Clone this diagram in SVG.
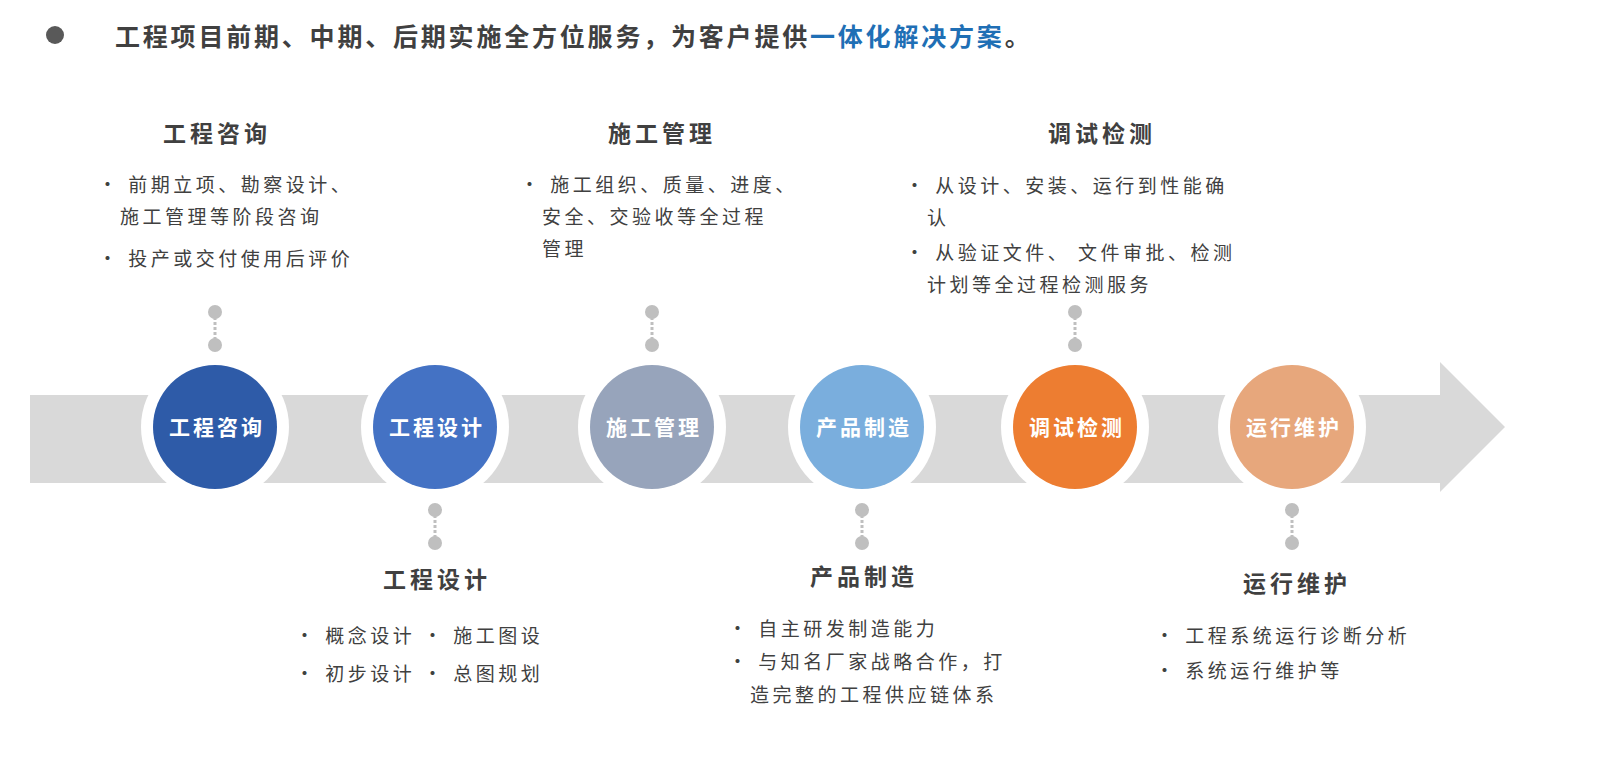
<svg xmlns="http://www.w3.org/2000/svg" width="1612" height="760" viewBox="0 0 1612 760">
<style>
text{font-family:"Noto Sans CJK SC","Noto Sans",sans-serif}
.h{font-size:23px;font-weight:bold;fill:#404040;text-anchor:middle;letter-spacing:4px}
.b{font-size:19px;fill:#404040;letter-spacing:3.5px}
.c{font-size:21px;font-weight:bold;fill:#fff;text-anchor:middle;letter-spacing:3px}
.ring{fill:#fff}
.dot{fill:#bfbfbf}
.ln{stroke:#bfbfbf;stroke-width:3;stroke-dasharray:3 2}
</style>
<rect width="1612" height="760" fill="#fff"/>
<circle cx="55" cy="35" r="9" fill="#595959"/>
<text x="115" y="46" style="font-size:25px;font-weight:bold;fill:#404040;letter-spacing:2.8px">工程项目前期、中期、后期实施全方位服务，为客户提供<tspan fill="#1f6fb5">一体化解决方案</tspan>。</text>
<polygon id="arrow" points="30,395 1440,395 1440,362 1505,427 1440,492 1440,483 30,483" fill="#d9d9d9"/>
<g id="connectors">
<line class="ln" x1="215" y1="312" x2="215" y2="345"/><circle class="dot" cx="215" cy="312" r="7"/><circle class="dot" cx="215" cy="345" r="7"/>
<line class="ln" x1="652" y1="312" x2="652" y2="345"/><circle class="dot" cx="652" cy="312" r="7"/><circle class="dot" cx="652" cy="345" r="7"/>
<line class="ln" x1="1075" y1="312" x2="1075" y2="345"/><circle class="dot" cx="1075" cy="312" r="7"/><circle class="dot" cx="1075" cy="345" r="7"/>
<line class="ln" x1="435" y1="510" x2="435" y2="543"/><circle class="dot" cx="435" cy="510" r="7"/><circle class="dot" cx="435" cy="543" r="7"/>
<line class="ln" x1="862" y1="510" x2="862" y2="543"/><circle class="dot" cx="862" cy="510" r="7"/><circle class="dot" cx="862" cy="543" r="7"/>
<line class="ln" x1="1292" y1="510" x2="1292" y2="543"/><circle class="dot" cx="1292" cy="510" r="7"/><circle class="dot" cx="1292" cy="543" r="7"/>
</g>
<g id="n1"><circle class="ring" cx="215" cy="427" r="74"/><circle cx="215" cy="427" r="62" fill="#2e5ba8"/><text class="c" x="217" y="435">工程咨询</text>
<text class="h" x="217" y="142">工程咨询</text>
<text class="b" x="98" y="192">•  前期立项、勘察设计、</text><text class="b" x="120" y="224">施工管理等阶段咨询</text><text class="b" x="98" y="266">•  投产或交付使用后评价</text></g>
<g id="n2"><circle class="ring" cx="435" cy="427" r="74"/><circle cx="435" cy="427" r="62" fill="#4472c4"/><text class="c" x="437" y="435">工程设计</text>
<text class="h" x="437" y="588">工程设计</text>
<text class="b" x="295" y="643">•  概念设计   •  施工图设</text><text class="b" x="295" y="681">•  初步设计   •  总图规划</text></g>
<g id="n3"><circle class="ring" cx="652" cy="427" r="74"/><circle cx="652" cy="427" r="62" fill="#97a4bb"/><text class="c" x="654" y="435">施工管理</text>
<text class="h" x="662" y="142">施工管理</text>
<text class="b" x="520" y="192">•  施工组织、质量、进度、</text><text class="b" x="542" y="224">安全、交验收等全过程</text><text class="b" x="542" y="256">管理</text></g>
<g id="n4"><circle class="ring" cx="862" cy="427" r="74"/><circle cx="862" cy="427" r="62" fill="#7aaedd"/><text class="c" x="864" y="435">产品制造</text>
<text class="h" x="864" y="585">产品制造</text>
<text class="b" x="728" y="636">•  自主研发制造能力</text><text class="b" x="728" y="669">•  与知名厂家战略合作，打</text><text class="b" x="750" y="702">造完整的工程供应链体系</text></g>
<g id="n5"><circle class="ring" cx="1075" cy="427" r="74"/><circle cx="1075" cy="427" r="62" fill="#ed7d31"/><text class="c" x="1077" y="435">调试检测</text>
<text class="h" x="1102" y="142">调试检测</text>
<text class="b" x="905" y="193">•  从设计、安装、运行到性能确</text><text class="b" x="927" y="225">认</text><text class="b" x="905" y="260">•  从验证文件、 文件审批、检测</text><text class="b" x="927" y="292">计划等全过程检测服务</text></g>
<g id="n6"><circle class="ring" cx="1292" cy="427" r="74"/><circle cx="1292" cy="427" r="62" fill="#e7a77c"/><text class="c" x="1294" y="435">运行维护</text>
<text class="h" x="1297" y="592">运行维护</text>
<text class="b" x="1155" y="643">•  工程系统运行诊断分析</text><text class="b" x="1155" y="678">•  系统运行维护等</text></g>
</svg>
